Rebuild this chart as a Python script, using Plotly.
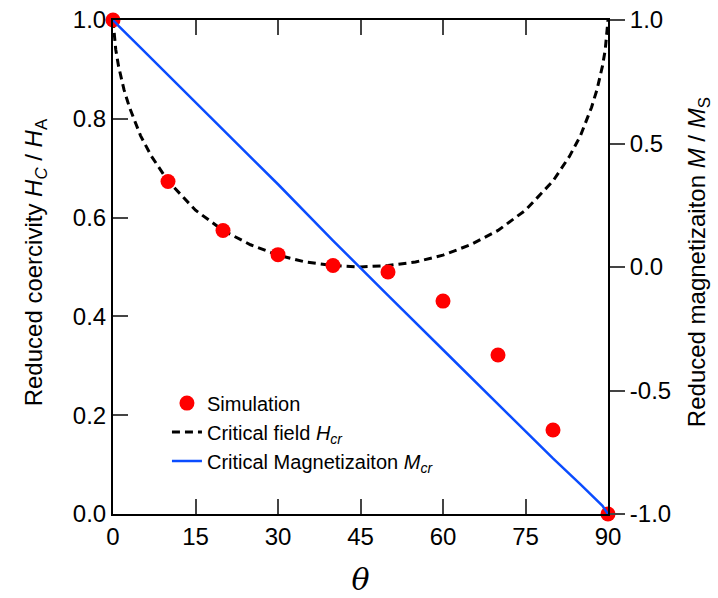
import plotly.graph_objects as go

# Simulation points (left axis)
sim_theta = [0, 10, 20, 30, 40, 50, 60, 70, 80, 90]
sim_hc = [1.0, 0.673, 0.574, 0.525, 0.503, 0.490, 0.431, 0.322, 0.170, 0.0]

# Critical field curve (left axis)
hcr_theta = [0, 0.5, 1, 2, 3, 5, 7, 10, 15, 20, 25, 30, 35, 40, 45,
             50, 55, 60, 65, 70, 75, 80, 83, 85, 87, 88, 89, 89.5, 90]
hcr_val = [1.0, 0.94, 0.907, 0.859, 0.823, 0.766, 0.724, 0.674, 0.615, 0.574, 0.545, 0.524, 0.510, 0.503, 0.500,
           0.503, 0.510, 0.524, 0.545, 0.574, 0.615, 0.674, 0.724, 0.766, 0.823, 0.859, 0.907, 0.94, 1.0]

# Critical magnetization (right axis)
mcr_theta = [0, 1, 5, 10, 20, 30, 40, 45, 50, 60, 70, 80, 85, 88, 89, 90]
mcr_val = [1.0, 0.976, 0.888, 0.778, 0.556, 0.335, 0.107, -0.005, -0.115, -0.335, -0.555, -0.775, -0.88, -0.945, -0.967, -1.0]

x_ticks = [0, 15, 30, 45, 60, 75, 90]
y_ticks = [0.0, 0.2, 0.4, 0.6, 0.8, 1.0]
y2_ticks = [-1.0, -0.5, 0.0, 0.5, 1.0]
y2_labels = ["-1.0", "-0.5", "0.0", "0.5", "1.0"]

FONT = "Liberation Sans, Arial, sans-serif"

fig = go.Figure()
fig.add_trace(go.Scatter(
    x=hcr_theta, y=hcr_val, mode="lines", name="Critical field <i>H<sub>cr</sub></i>",
    line=dict(color="black", width=3, dash="8px,5px"), cliponaxis=False, legendrank=2))
fig.add_trace(go.Scatter(
    x=mcr_theta, y=mcr_val, mode="lines", name="Critical Magnetizaiton <i>M<sub>cr</sub></i>",
    line=dict(color="#0a4cff", width=2.5), yaxis="y2", cliponaxis=False, legendrank=3))
fig.add_trace(go.Scatter(
    x=sim_theta, y=sim_hc, mode="markers", name="Simulation",
    marker=dict(color="#ff0000", size=15), cliponaxis=False, legendrank=1))

fig.update_layout(
    width=718, height=598,
    margin=dict(l=113, r=110, t=20, b=84),
    paper_bgcolor="white", plot_bgcolor="white",
    font=dict(family=FONT, size=21, color="black"),
    showlegend=True,
    legend=dict(x=0.109, y=0.264, xanchor="left", yanchor="top",
                bgcolor="rgba(0,0,0,0)", font=dict(size=20, family=FONT),
                traceorder="normal"),
    xaxis=dict(range=[0, 90], tickvals=x_ticks, ticks="inside", ticklen=15, tickwidth=2,
               showline=True, linewidth=2, linecolor="black", mirror="ticks",
               showgrid=False, zeroline=False, tickfont=dict(size=24), automargin=False,
               title=dict(text="<i>θ</i>", font=dict(family="DejaVu Serif, serif", size=30), standoff=20)),
    yaxis=dict(range=[0, 1], tickvals=y_ticks, tickformat=".1f", ticks="inside", ticklen=15, tickwidth=2,
               showline=True, linewidth=2, linecolor="black", mirror=False, automargin=False,
               showgrid=False, zeroline=False, tickfont=dict(size=24)),
    yaxis2=dict(range=[-1, 1], tickvals=y2_ticks, ticktext=y2_labels, ticks="outside", ticklen=15, tickwidth=2,
                overlaying="y", side="right", automargin=False,
                showline=True, linewidth=2, linecolor="black",
                showgrid=False, zeroline=False, tickfont=dict(size=24)),
    annotations=[
        dict(text="Reduced coercivity <i>H<sub>C</sub></i> / <i>H</i><sub>A</sub>",
             xref="paper", yref="paper", x=-0.157, y=0.51, xanchor="center", yanchor="middle",
             textangle=-90, showarrow=False, font=dict(size=24, family=FONT)),
        dict(text="Reduced magnetizaiton <i>M</i> / <i>M</i><sub>S</sub>",
             xref="paper", yref="paper", x=1.182, y=0.51, xanchor="center", yanchor="middle",
             textangle=-90, showarrow=False, font=dict(size=24, family=FONT)),
    ],
)

fig.write_html("out.html")
